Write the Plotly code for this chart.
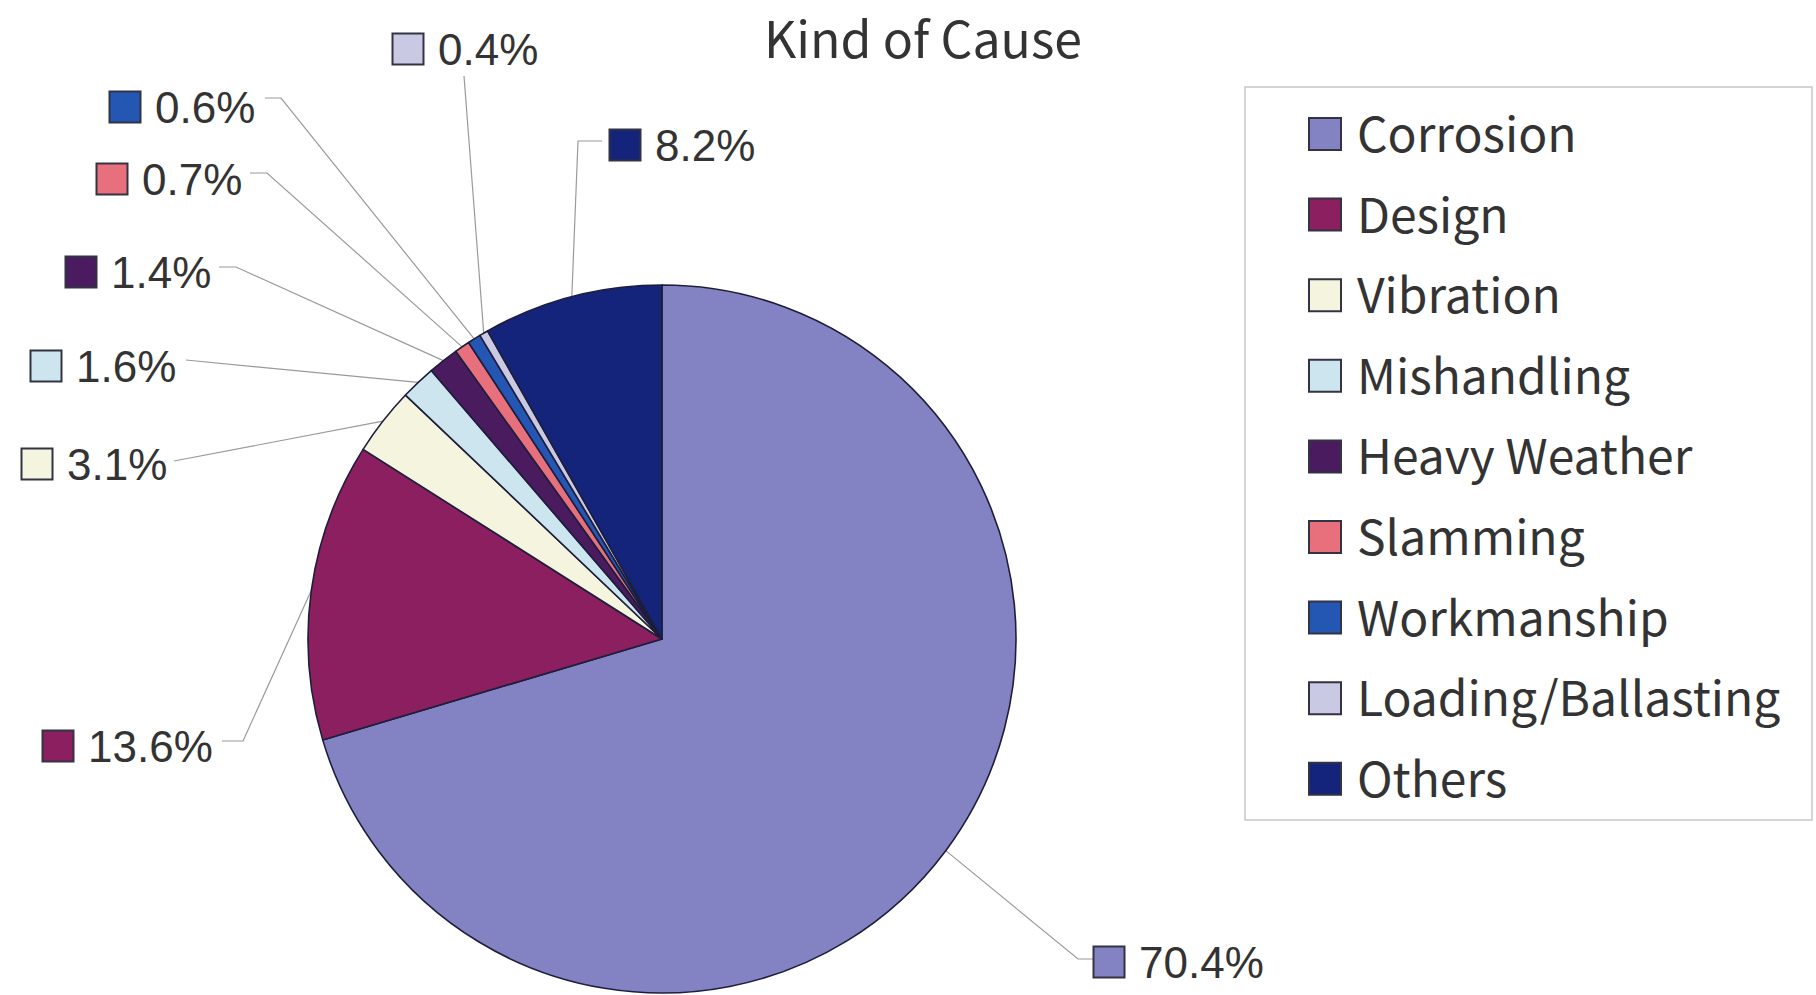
import math
import plotly.graph_objects as go

# ---------------- data ----------------
categories = ["Corrosion", "Design", "Vibration", "Mishandling", "Heavy Weather",
              "Slamming", "Workmanship", "Loading/Ballasting", "Others"]
shares = [70.4, 13.6, 3.1, 1.6, 1.4, 0.7, 0.6, 0.4, 8.2]
label_texts = ["70.4%", "13.6%", "3.1%", "1.6%", "1.4%", "0.7%", "0.6%", "0.4%", "8.2%"]
title_text = "Kind of Cause"

# ---------------- style / layout ----------------
colors = ["#8383C4", "#8C1F5F", "#F5F5DF", "#CCE5EE", "#4A1B5E",
          "#E8707D", "#2457B4", "#C9C9E3", "#13247A"]
W, H = 1816, 995
CX, CY, R = 662, 639, 354          # pie centre / radius in pixels

# label square centres (pixels) and leader stub points
label_pos = [(1109, 962), (58, 746), (37, 464), (46, 366), (81, 272),
             (112, 179), (125, 107), (408, 49), (625, 145)]
leader_stub = [
    [(1094, 959), (1078, 959)],
    [(222, 741), (243, 741)],
    [(174, 461)],
    [(186, 360)],
    [(219, 267), (236, 267)],
    [(250, 173), (267, 173)],
    [(265, 98), (281, 98)],
    [(464, 76)],
    [(602, 141), (578, 141)],
]
legend_box = (1245, 87, 1812, 820)
legend_first_y, legend_step = 134, 80.6
legend_sq_x, legend_txt_x = 1325, 1355

edge = "#1E1E3C"
lab_font = dict(family="Liberation Sans, Arial, sans-serif", size=44, color="#333333")
leg_font = dict(family="Noto Sans CJK JP, Noto Sans, sans-serif", size=48, color="#333333")
title_font = dict(family="Noto Sans CJK JP, Noto Sans, sans-serif", size=50, color="#333333")

fig = go.Figure()

# pie
fig.add_trace(go.Pie(
    labels=categories, values=shares, sort=False, direction="clockwise", rotation=0,
    marker=dict(colors=colors, line=dict(color=edge, width=1.6)),
    textinfo="none", hoverinfo="label+percent", showlegend=False,
    domain=dict(x=[(CX - R) / W, (CX + R) / W],
                y=[(H - CY - R) / H, (H - CY + R) / H]),
))

# leader lines (end point on the arc at each slice's mid angle, from the data)
total = sum(shares)
cum = 0.0
for i, v in enumerate(shares):
    mid = (cum + v / 2) / total * 2 * math.pi
    cum += v
    ax_ = CX + R * math.sin(mid)
    ay_ = CY - R * math.cos(mid)
    pts = leader_stub[i] + [(ax_, ay_)]
    fig.add_trace(go.Scatter(
        x=[p[0] for p in pts], y=[p[1] for p in pts], mode="lines",
        line=dict(color="#9A9A9A", width=1.2), hoverinfo="skip", showlegend=False))

# label squares
fig.add_trace(go.Scatter(
    x=[p[0] for p in label_pos], y=[p[1] for p in label_pos], mode="markers",
    marker=dict(symbol="square", size=31, color=colors, line=dict(color="#333344", width=2)),
    hoverinfo="skip", showlegend=False))

# legend squares
leg_y = [legend_first_y + i * legend_step for i in range(len(categories))]
fig.add_trace(go.Scatter(
    x=[legend_sq_x] * len(categories), y=leg_y, mode="markers",
    marker=dict(symbol="square", size=32, color=colors, line=dict(color="#333344", width=2)),
    hoverinfo="skip", showlegend=False))

annotations = []
for (sx, sy), t in zip(label_pos, label_texts):
    annotations.append(dict(x=sx + 28, y=sy, xref="x", yref="y", text=t, showarrow=False,
                            xanchor="left", yanchor="middle", font=lab_font))
for y, c in zip(leg_y, categories):
    annotations.append(dict(x=legend_txt_x, y=y - 3, xref="x", yref="y", text=c, showarrow=False,
                            xanchor="left", yanchor="middle", font=leg_font))
annotations.append(dict(x=923, y=36, xref="x", yref="y", text=title_text, showarrow=False,
                        xanchor="center", yanchor="middle", font=title_font))

fig.update_layout(
    width=W, height=H, margin=dict(l=0, r=0, t=0, b=0),
    paper_bgcolor="white", plot_bgcolor="rgba(0,0,0,0)",
    xaxis=dict(range=[0, W], visible=False, domain=[0, 1], fixedrange=True),
    yaxis=dict(range=[H, 0], visible=False, domain=[0, 1], fixedrange=True),
    annotations=annotations,
    shapes=[dict(type="rect", xref="x", yref="y",
                 x0=legend_box[0], y0=legend_box[1], x1=legend_box[2], y1=legend_box[3],
                 line=dict(color="#C8C8C8", width=1.5), fillcolor="rgba(0,0,0,0)", layer="below")],
    showlegend=False,
)

fig.write_html("out.html")
